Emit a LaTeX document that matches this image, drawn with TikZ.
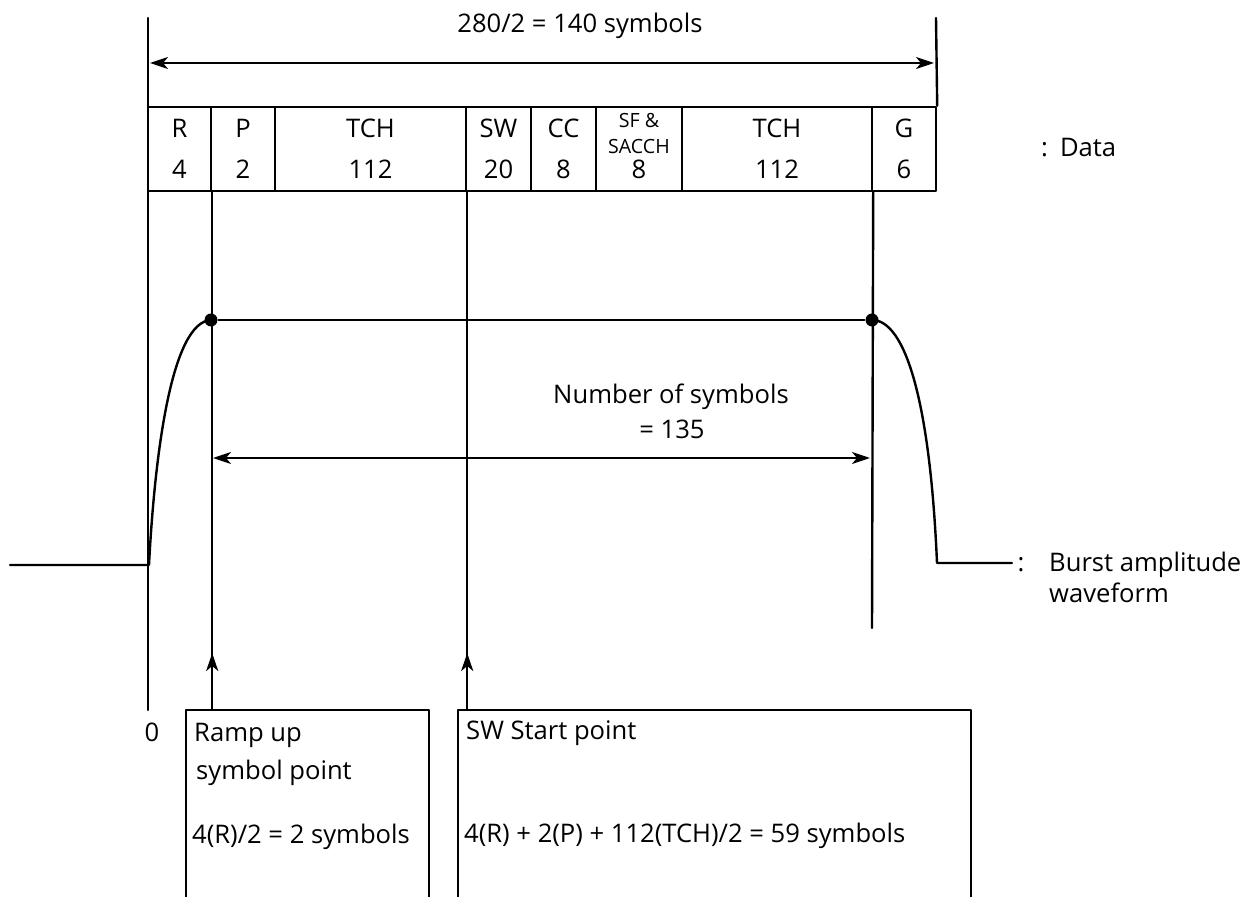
\documentclass[tikz,border=0pt]{standalone}
\usepackage{fontspec}
\setmainfont{Open Sans}
\usetikzlibrary{arrows.meta,positioning,calc}
\tikzset{
  txt/.style={inner sep=0pt,font=\fontsize{12.8}{15}\selectfont},
  small/.style={inner sep=0pt,font=\fontsize{9.8}{11}\selectfont},
  field/.style={draw,inner sep=0pt,minimum height=42pt},
  box/.style={draw,inner sep=0pt,minimum height=100pt,anchor=north west},
  tipup/.style={-{Stealth[length=9pt,width=6pt,inset=2.5pt]}},
  span/.style={{Stealth[length=9pt,width=6pt,inset=2.5pt]}-{Stealth[length=9pt,width=6pt,inset=2.5pt]}},
  pin/.style={circle,fill,inner sep=0pt,minimum size=6.5pt},
  every picture/.style={line cap=round,line join=round}}

\begin{document}
\begin{tikzpicture}[x=0.5pt,y=-0.5pt,line width=1.2pt]
  \useasboundingbox (0,0) rectangle (1259,897);
  % data fields of the burst
  \foreach \a/\b/\t/\n [count=\i] in {148/211/R/4,211/275/P/2,275/466/TCH/112,
      466/531/SW/20,531/596/CC/8,596/682//8,682/872/TCH/112,872/936/G/6}{
    \pgfmathsetmacro\w{(\b-\a)*0.5}
    \node[field,minimum width=\w pt] (f\i) at ({(\a+\b)/2},149) {};
    \node[txt,anchor=base] (t\i) at ({(\a+\b)/2},138) {\t};
    \node[txt,anchor=base] (n\i) at ({(\a+\b)/2},179) {\n};
  }
  \node[small,anchor=base] (sf) at (639,128) {SF \&};
  \node[small,anchor=base] (sa) at (639,154) {SACCH};
  \node[txt,anchor=base west] (data) at (1040,157) {:\hspace{6pt}Data};

  % frame and total length
  \coordinate (o) at (148,18);  \coordinate (e) at (936,18);
  \coordinate (zero) at (148,710);
  \draw (o) -- (zero);
  \draw (e) -- (f8.north east);
  \coordinate (sL) at (150,63); \coordinate (sR) at (934,63);
  \draw[span] (sL) -- (sR);
  \node[txt,anchor=base] (tot) at (580,33) {280/2 = 140 symbols};

  % burst amplitude waveform
  \node[pin] (up) at (211,320) {};
  \node[pin] (dn) at (872,320) {};
  \draw (up) -- (dn);
  \coordinate (b0) at (10,565); \coordinate (b1) at (149,565);
  \coordinate (b2) at (937,563); \coordinate (b3) at (1012,563);
  \draw (b0) -- (b1) .. controls (155,450) and (172,322) .. (up.center);
  \draw (dn.center) .. controls (905,320) and (930,400) .. (b2) -- (b3);
  \node[txt,anchor=base] (col) at (1021,572) {:};
  \node[txt,anchor=base west] (bw1) at (1048,572) {Burst amplitude};
  \node[txt,anchor=base west] (bw2) at (1048,603) {waveform};

  % symbols between ramp points
  \coordinate (m1) at (213,458); \coordinate (m2) at (870,458);
  \draw[span] (m1) -- (m2);
  \node[txt,anchor=base] (nos) at (671,404) {Number of symbols};
  \node[txt,anchor=base] (eq) at (672,439) {= 135};

  % reference points
  \node[box,minimum width=121.5pt] (rbox) at (185,709) {};
  \node[box,minimum width=256.5pt] (sbox) at (457,709) {};
  \coordinate (gEnd) at (872,628);
  \draw (f1.south east) -- (f1.south east |- rbox.north);
  \draw[tipup] (f1.south east |- rbox.north) -- ++(0,-56);
  \draw (f3.south east) -- (f3.south east |- sbox.north);
  \draw[tipup] (f3.south east |- sbox.north) -- ++(0,-56);
  \draw (f7.south east) -- (gEnd);
  \node[txt,anchor=base] (z) at (152,742) {0};
  \node[txt,anchor=base west] (r1) at (193,742) {Ramp up};
  \node[txt,anchor=base west] (r2) at (195,780) {symbol point};
  \node[txt,anchor=base west] (r3) at (191,843) {4(R)/2 = 2 symbols};
  \node[txt,anchor=base west] (s1) at (465,740) {SW Start point};
  \node[txt,anchor=base west] (s2) at (463,842) {4(R) + 2(P) + 112(TCH)/2 = 59 symbols};
\end{tikzpicture}
\end{document}
